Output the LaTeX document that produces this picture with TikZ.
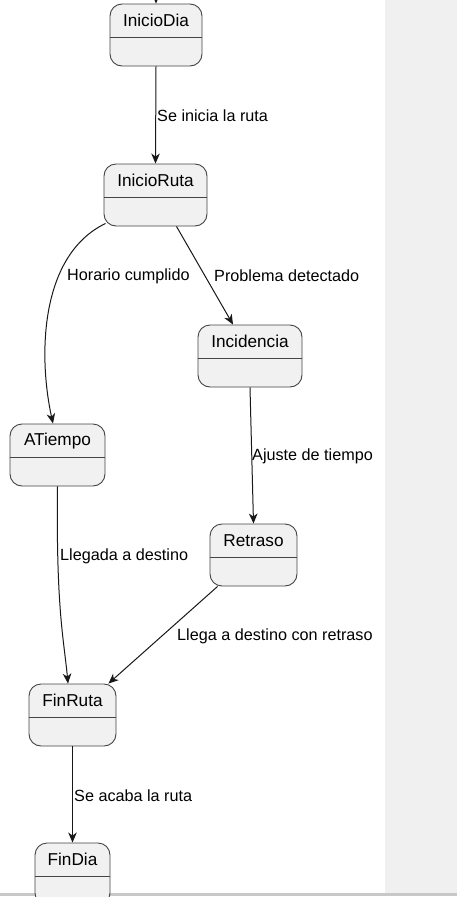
\documentclass[tikz,border=0pt]{standalone}
\usepackage{fontspec}
\setmainfont{Liberation Sans}
\usetikzlibrary{arrows.meta,calc}
\definecolor{fillcol}{HTML}{F1F1F1}
\definecolor{bordcol}{HTML}{444444}
\definecolor{edgecol}{HTML}{181818}
\definecolor{panelcol}{HTML}{F0F0F0}
\definecolor{stripcol}{HTML}{C8C8C8}
\tikzset{
  statebox/.style={draw=bordcol, fill=fillcol, rounded corners=12pt, line width=0.9pt, minimum height=62pt, inner sep=0pt},
  titletext/.style={font=\fontsize{17.2}{20}\selectfont, inner sep=0pt, text=black},
  divline/.style={draw=bordcol, line width=0.9pt},
  conn/.style={draw=edgecol, line width=1pt, -{Stealth[length=10pt,width=8.5pt,inset=3pt]}},
  lbl/.style={font=\fontsize{16.2}{19}\selectfont, anchor=west, inner sep=0pt, text=black}
}
\newcommand{\mystate}[5]{%
  \node[statebox, minimum width=#4pt] (#1) at (#2,#3) {};
  \node[titletext] (#1-t) at ($(#1.north)+(0,17)$) {#5};
  \draw[divline] ($(#1.north west)+(0,34)$) -- ($(#1.north east)+(0,34)$);
}
\begin{document}
\begin{tikzpicture}[x=1pt,y=-1pt]
\useasboundingbox (0,0) rectangle (457,897);
\clip (0,0) rectangle (457,897);
\fill[white] (0,0) rectangle (457,897);
\fill[panelcol] (385,0) rectangle (457,893);
\fill[stripcol] (0,893) rectangle (457,896);

\mystate{InicioDia}{156}{35}{92}{InicioDia}
\mystate{InicioRuta}{155.5}{195}{103}{InicioRuta}
\mystate{Incidencia}{250}{356}{104}{Incidencia}
\mystate{ATiempo}{57.5}{455}{95}{ATiempo}
\mystate{Retraso}{253.5}{555}{87}{Retraso}
\mystate{FinRuta}{72.5}{715}{87}{FinRuta}
\mystate{FinDia}{72.5}{874}{75}{FinDia}

\coordinate (topstart) at (156,-20);
\draw[conn] (topstart) -- (InicioDia.north);
\draw[conn] (InicioDia.south) -- (InicioRuta.north);
\draw[conn] ($(InicioRuta.south west)+(2,-3)$) .. controls (40,255) and (38,355) .. ($(ATiempo.north)+(-4.5,0)$);
\draw[conn] ($(InicioRuta.south)+(21,0)$) -- ($(Incidencia.north)+(-17,0)$);
\draw[conn] (Incidencia.south) -- (Retraso.north);
\draw[conn] (ATiempo.south) .. controls (56,610) and (64,640) .. ($(FinRuta.north)+(-4.5,0)$);
\draw[conn] ($(Retraso.south west)+(8,0)$) -- ($(FinRuta.north east)+(-8,0)$);
\draw[conn] (FinRuta.south) -- (FinDia.north);

\node[lbl] (l1) at (157,116) {Se inicia la ruta};
\node[lbl] (l2) at (67,276) {Horario cumplido};
\node[lbl] (l3) at (214,276) {Problema detectado};
\node[lbl] (l4) at (252,456) {Ajuste de tiempo};
\node[lbl] (l5) at (60,556) {Llegada a destino};
\node[lbl] (l6) at (177,636) {Llega a destino con retraso};
\node[lbl] (l7) at (74,796) {Se acaba la ruta};
\end{tikzpicture}
\end{document}
